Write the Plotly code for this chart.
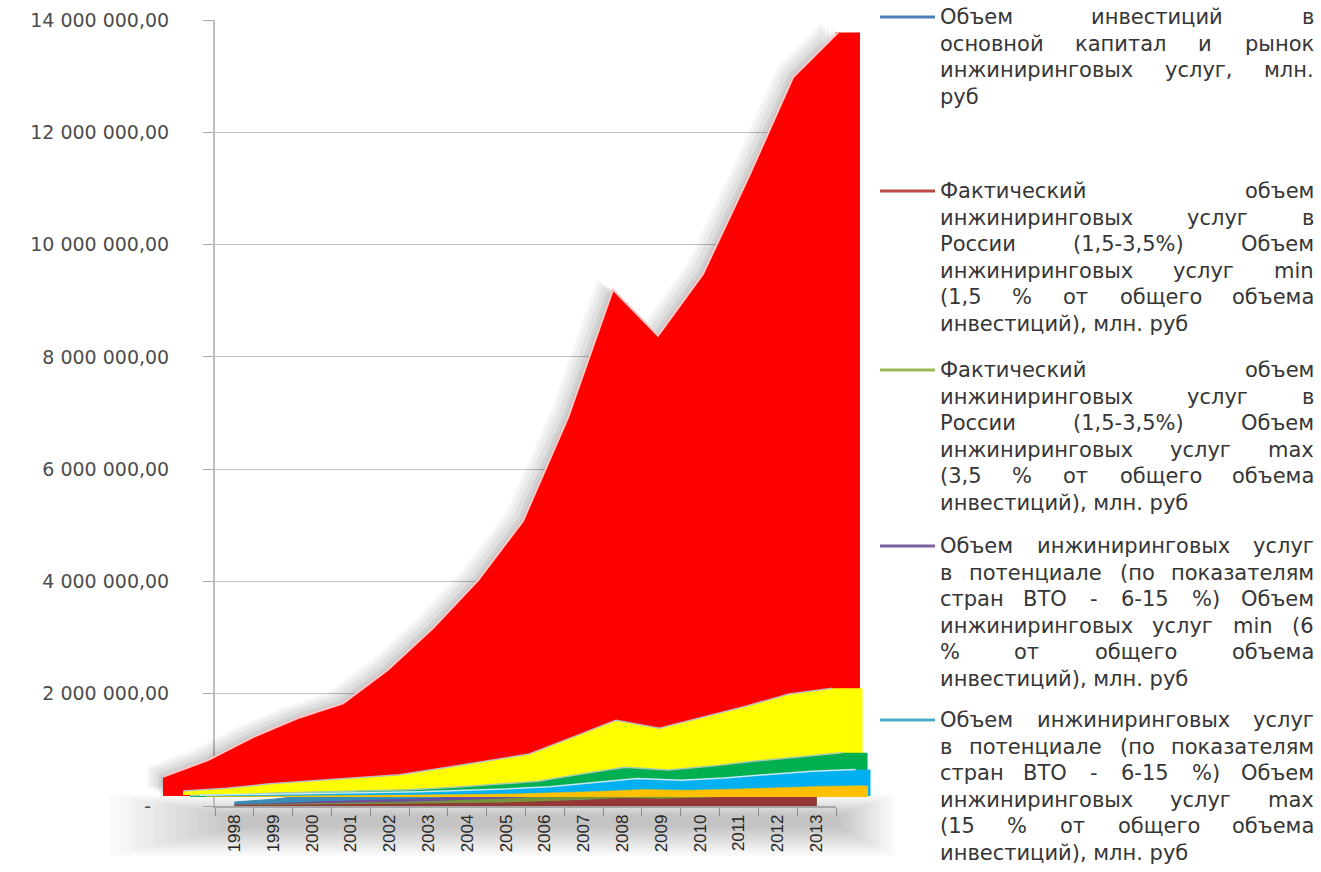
import plotly.graph_objects as go

# ---------------- data (mln rub) ----------------
years = [str(y) for y in range(1998, 2014)]
invest = [340000, 640000, 1050000, 1390000, 1650000, 2250000, 2990000, 3840000,
          4900000, 6740000, 9020000, 8200000, 9300000, 11000000, 12800000, 13600000]
pot_max15 = [70000, 120000, 200000, 250000, 300000, 360000, 480000, 600000,
             730000, 1030000, 1330000, 1190000, 1390000, 1580000, 1800000, 1900000]
pot_min6 = [25000, 40000, 70000, 90000, 105000, 130000, 170000, 220000,
            280000, 410000, 530000, 480000, 550000, 640000, 720000, 790000]
fact_max35 = [14000, 23000, 40000, 52000, 62000, 77000, 100000, 126000,
              166000, 235000, 310000, 280000, 320000, 385000, 440000, 470000]
fact_min15 = [6000, 10000, 17000, 23000, 26000, 33000, 43000, 54000,
              71000, 100000, 132000, 120000, 137000, 166000, 189000, 202000]

ytick_vals = [0, 2000000, 4000000, 6000000, 8000000, 10000000, 12000000, 14000000]
ytick_text = ["-\u00a0\u00a0\u00a0", "2 000 000,00", "4 000 000,00", "6 000 000,00",
              "8 000 000,00", "10 000 000,00", "12 000 000,00", "14 000 000,00"]

legend_colors = ["#4A7EBB", "#BE4B48", "#98B954", "#7D60A0", "#46AAC5"]
legend_lines = [
    ["Объем инвестиций в", "основной капитал и рынок", "инжиниринговых услуг, млн.", "руб"],
    ["Фактический объем", "инжиниринговых услуг в", "России (1,5-3,5%) Объем",
     "инжиниринговых услуг min", "(1,5 % от общего объема", "инвестиций), млн. руб"],
    ["Фактический объем", "инжиниринговых услуг в", "России (1,5-3,5%) Объем",
     "инжиниринговых услуг max", "(3,5 % от общего объема", "инвестиций), млн. руб"],
    ["Объем инжиниринговых услуг", "в потенциале (по показателям", "стран ВТО - 6-15 %) Объем",
     "инжиниринговых услуг min (6", "% от общего объема", "инвестиций), млн. руб"],
    ["Объем инжиниринговых услуг", "в потенциале (по показателям", "стран ВТО - 6-15 %) Объем",
     "инжиниринговых услуг max", "(15 % от общего объема", "инвестиций), млн. руб"],
]

# ---------------- geometry ----------------
W, H = 1321, 872
X_LEFT, X_RIGHT = 215, 836      # back wall
Y_TOP, Y_BOT = 20, 806          # 14 000 000 and 0
S = (Y_BOT - Y_TOP) / 14e6      # px per unit

idx = list(range(len(years)))

fig = go.Figure()

# thin back ribbons (legend colours) on the main axes
back_ribbons = [(pot_max15, "#3A8DB2"), (pot_min6, "#6B4F9E"),
                (fact_max35, "#77933C"), (fact_min15, "#953735")]
for vals, col in back_ribbons:
    fig.add_trace(go.Scatter(x=years, y=vals, mode="lines", fill="tozeroy",
                             line=dict(color=col, width=1), fillcolor=col,
                             showlegend=False, hoverinfo="skip",
                             xaxis="x", yaxis="y"))

# front "3D" ribbons on offset overlay axes
# (values, x0, dx, base, fill, line colour, line width, side-face depth px)
NOL = "rgba(0,0,0,0)"
layers = [
    (invest, 147, 45, 786, "rgba(0,0,0,0.035)", NOL, 0, 0),
    (invest, 150, 45, 788, "rgba(0,0,0,0.04)", NOL, 0, 0),
    (invest, 154, 45, 790, "rgba(0,0,0,0.05)", NOL, 0, 0),
    (invest, 158, 45, 793, "rgba(0,0,0,0.06)", NOL, 0, 0),
    (invest, 161, 45, 795, "rgba(0,0,0,0.07)", NOL, 0, 0),
    (invest, 163, 45, 796, "#FF0000", "#FFC8C8", 2, 22),
    (pot_max15, 183, 43.3, 795, "#FFFF00", "#BDBDBD", 1.5, 30),
    (pot_min6, 190, 43.5, 797, "#00B050", "#A8C8B0", 1.5, 25),
    (fact_max35, 200, 43.7, 796, "#00B0F0", "#C8E8F4", 1.5, 15),
    (fact_min15, 205, 43.8, 797, "#FFC000", "#FFC000", 0.5, 6),
]

layout_axes = {}
for k, (vals, x0, dx, base, fillc, linec, lw, depth) in enumerate(layers):
    n = k + 2
    xa = -x0 / dx
    xrange = [xa, xa + W / dx]
    d = base / S
    yrange = [d - H / S, d]
    xk = "x" + str(n)
    yk = "y" + str(n)
    xd = dict(range=xrange, visible=False, fixedrange=True, automargin=False)
    yd = dict(range=yrange, visible=False, fixedrange=True, automargin=False)
    if n == 2:
        xd.update(domain=[0, 1], anchor="y2")
        yd.update(domain=[0, 1], anchor="x2")
    else:
        xd.update(overlaying="x2", anchor=yk)
        yd.update(overlaying="y2", anchor=xk)
    layout_axes["xaxis" + str(n)] = xd
    layout_axes["yaxis" + str(n)] = yd
    if depth:
        # right side face of the 3D ribbon
        fig.add_trace(go.Bar(x=[idx[-1]], y=[vals[-1]], offset=-0.06,
                             width=depth / dx + 0.06,
                             marker=dict(color=fillc, line=dict(width=0)),
                             showlegend=False, hoverinfo="skip", xaxis=xk, yaxis=yk))
    fig.add_trace(go.Scatter(x=idx, y=vals, mode="lines", fill="tozeroy",
                             fillcolor=fillc, line=dict(color=linec, width=lw),
                             showlegend=False, hoverinfo="skip",
                             xaxis=xk, yaxis=yk))

# ---------------- legend as text ----------------
cw = {' ': 0.318, 'О': 0.787, 'б': 0.618, 'ъ': 0.716, 'е': 0.615, 'м': 0.75, 'и': 0.649,
      'н': 0.649, 'в': 0.588, 'с': 0.55, 'т': 0.512, 'ц': 0.667, 'й': 0.649, 'о': 0.612,
      'к': 0.593, 'а': 0.613, 'п': 0.649, 'л': 0.641, 'р': 0.635, 'ы': 0.838, 'ж': 0.889,
      'г': 0.478, 'х': 0.592, 'у': 0.592, ',': 0.318, '.': 0.318, 'Ф': 0.85, 'ч': 0.613,
      'Р': 0.603, '(': 0.39, ')': 0.39, '1': 0.636, '5': 0.636, '3': 0.636, '6': 0.636,
      '-': 0.361, '%': 0.95, 'm': 0.974, 'i': 0.278, 'n': 0.634, 'a': 0.613, 'x': 0.592,
      'щ': 0.961, 'я': 0.605, 'В': 0.686, 'Т': 0.611, 'з': 0.531, 'д': 0.656, 'ш': 0.947,
      'ь': 0.588, 'э': 0.555, 'ю': 0.868}
LFS = 21
LCOL = "#363636"


def tw(s):
    return sum(cw.get(c, 0.62) for c in s) * LFS


TXT_L, TXT_R = 938, 1316
entry_y = [17, 191, 370, 546, 720]
LINE_H = 26.6
annotations = []
shapes = []
for e, lines in enumerate(legend_lines):
    y0 = entry_y[e]
    shapes.append(dict(type="line", xref="paper", yref="paper",
                       x0=880 / W, x1=935 / W, y0=1 - y0 / H, y1=1 - y0 / H,
                       line=dict(color=legend_colors[e], width=3)))
    for li, line in enumerate(lines):
        py = y0 + li * LINE_H
        yp = 1 - py / H
        words = line.split(" ")
        last = li == len(lines) - 1
        if last or len(words) == 1:
            annotations.append(dict(text=line, x=TXT_L / W, y=yp, xref="paper", yref="paper",
                                    xanchor="left", yanchor="middle", showarrow=False,
                                    font=dict(family="DejaVu Sans", size=LFS, color=LCOL)))
            continue
        widths = [tw(w) for w in words]
        gap = (TXT_R - TXT_L - sum(widths)) / (len(words) - 1)
        pos = TXT_L
        for wi, w in enumerate(words):
            if wi == 0:
                xa, xanc = pos, "left"
            elif wi == len(words) - 1:
                xa, xanc = TXT_R, "right"
            else:
                xa, xanc = pos + widths[wi] / 2, "center"
            annotations.append(dict(text=w, x=xa / W, y=yp, xref="paper", yref="paper",
                                    xanchor=xanc, yanchor="middle", showarrow=False,
                                    font=dict(family="DejaVu Sans", size=LFS, color=LCOL)))
            pos += widths[wi] + gap

# soft floor shadow
for i in range(12):
    a = 110 + i * 11
    c = 895 - i * 5
    b = 795 + i * 1.8
    d = 856 - i * 2.6
    shapes.append(dict(type="rect", xref="paper", yref="paper", layer="below",
                       x0=a / W, x1=c / W, y0=1 - d / H, y1=1 - b / H,
                       line=dict(width=0), fillcolor="black", opacity=0.02))

fig.update_layout(
    width=W, height=H,
    margin=dict(l=0, r=0, t=0, b=0, autoexpand=False),
    paper_bgcolor="white", plot_bgcolor="rgba(0,0,0,0)",
    showlegend=False,
    xaxis=dict(domain=[X_LEFT / W, X_RIGHT / W], type="category", range=[-0.5, 15.5],
               tickson="boundaries", ticks="outside", ticklen=8, tickcolor="#8C8C8C",
               showline=True, linecolor="#A6A6A6", linewidth=1.5, showgrid=False,
               tickangle=-90, tickfont=dict(family="Liberation Sans", size=17, color="#262626"),
               anchor="y", fixedrange=True, automargin=False),
    yaxis=dict(domain=[1 - Y_BOT / H, 1 - Y_TOP / H], range=[0, 14e6],
               tickvals=ytick_vals, ticktext=ytick_text, ticks="outside", ticklen=10,
               tickcolor="#A6A6A6", showline=True, linecolor="#BFBFBF", linewidth=2,
               showgrid=True, gridcolor="#BFBFBF", gridwidth=1, zeroline=False,
               tickfont=dict(family="DejaVu Sans", size=19, color="#4D4D4D"),
               ticklabelstandoff=30, anchor="x", fixedrange=True, automargin=False),
    annotations=annotations,
    shapes=shapes,
    **layout_axes,
)

fig.write_html("out.html", config={"displayModeBar": False},
               post_script="document.body.style.margin='0';")
